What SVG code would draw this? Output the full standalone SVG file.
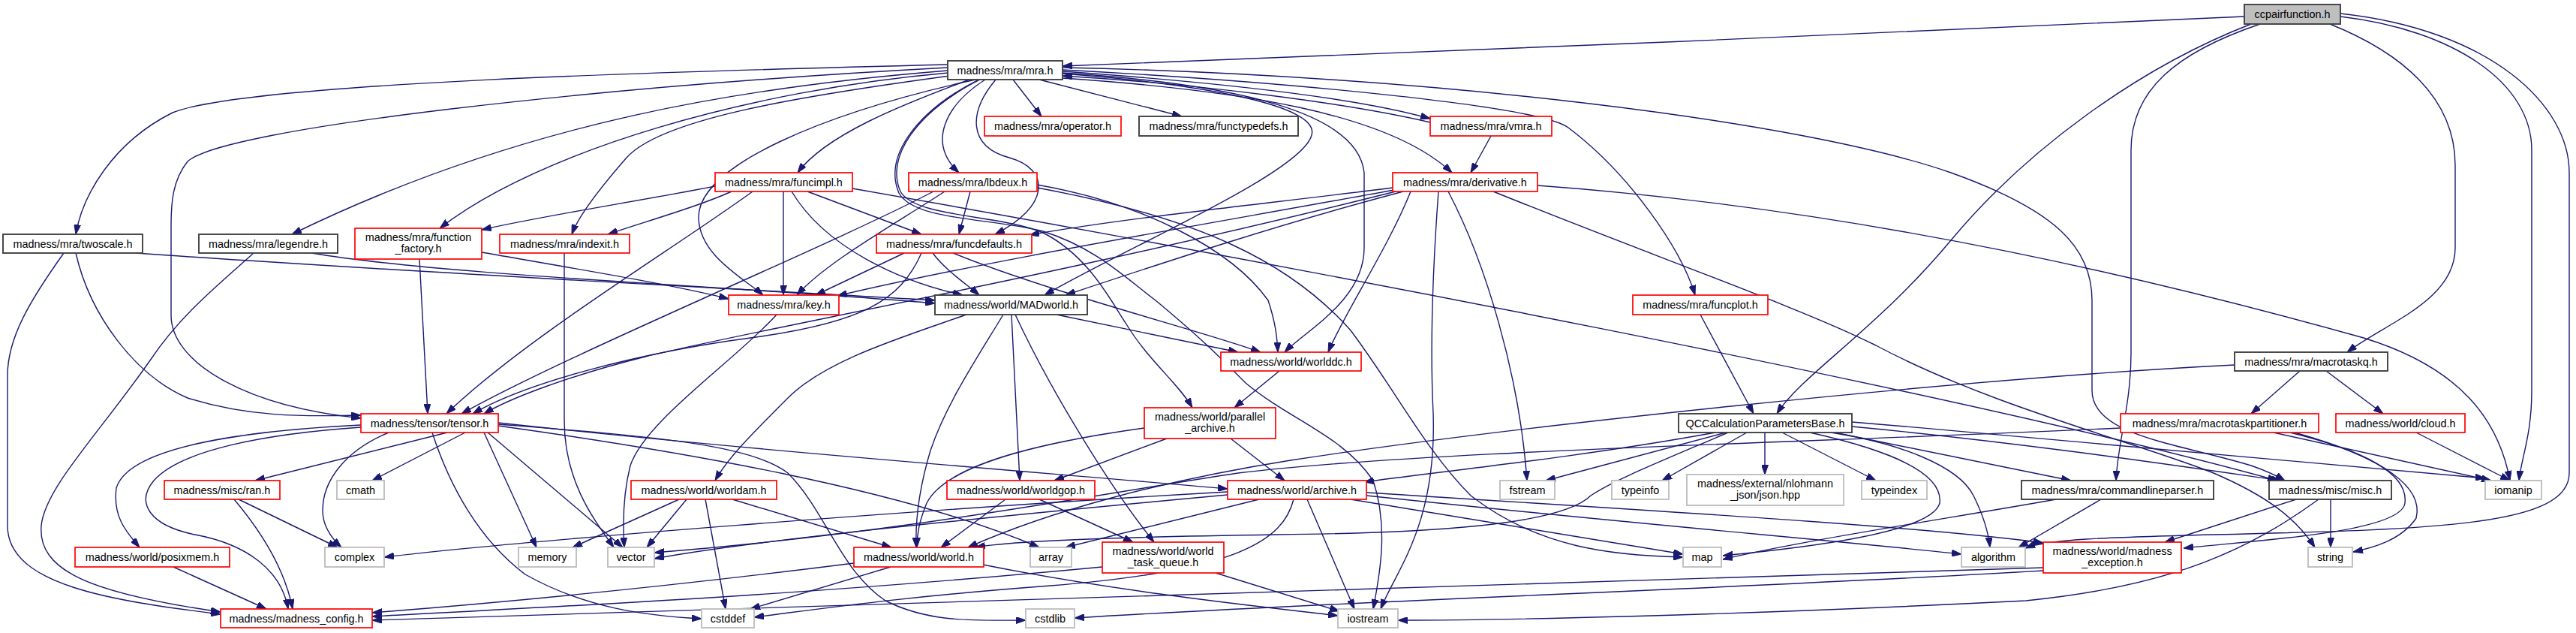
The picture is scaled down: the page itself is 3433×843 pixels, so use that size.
<svg xmlns="http://www.w3.org/2000/svg" width="3433" height="843" viewBox="0 0 3433 843">
<style>
text{font-family:"Liberation Sans",Arial,sans-serif;font-size:14.4px;text-anchor:middle;fill:#000}
.r rect{fill:#fff;stroke:#ff0000;stroke-width:1.7}
.b rect{fill:#fff;stroke:#404040;stroke-width:1.9}
.g rect{fill:#fff;stroke:#bfbfbf;stroke-width:1.9}
.root rect{fill:#bfbfbf;stroke:#404040;stroke-width:1.9}
#edges path{fill:none;stroke:#191970;stroke-width:1.4;marker-end:url(#a)}
</style>
<defs>
<marker id="a" markerWidth="13" markerHeight="9" refX="13" refY="4.5" orient="auto" markerUnits="userSpaceOnUse"><path d="M0,0 L13,4.5 L0,9 z" fill="#191970" stroke="#191970" stroke-width="1"/></marker>
</defs>
<rect width="3433" height="843" fill="#fff"/>
<g id="edges">
<path d="M2991,22 C2500,45 1900,70 1416,88"/>
<path d="M3000,32 C2850,90 2700,200 2600,320 C2500,440 2400,500 2368,551"/>
<path d="M3012,32 C2900,70 2840,120 2840,200 L2840,470 C2840,540 2822,590 2820,640"/>
<path d="M3105,32 C3200,70 3272,130 3272,220 L3272,330 C3272,400 3180,430 3128,469"/>
<path d="M3119,22 C3270,40 3374,110 3374,200 L3374,520 C3374,580 3360,610 3357,640"/>
<path d="M3119,18 C3320,40 3424,140 3424,230 L3424,630 C3424,700 3250,705 2950,712 C2800,716 2730,718 2699,730"/>
<path d="M1263,86 C900,95 330,110 230,150 C150,190 110,260 101,312"/>
<path d="M1263,90 C800,115 300,170 250,215 C230,240 228,270 228,300 L228,420 C228,480 320,540 481,557"/>
<path d="M1263,94 C1000,115 700,160 389,312"/>
<path d="M1264,97 C1000,120 720,200 586,304"/>
<path d="M1266,101 C1050,130 880,160 835,210 C800,250 770,290 762,312"/>
<path d="M1300,106 C1100,150 930,220 931,290 C932,340 990,370 1017,393"/>
<path d="M1292,106 C1200,140 1100,180 1063,230"/>
<path d="M1313,106 C1260,140 1235,190 1278,230"/>
<path d="M1327,106 C1290,150 1290,195 1345,210 C1400,225 1400,275 1326,312"/>
<path d="M1350,106 L1388,155"/>
<path d="M1385,106 L1575,155"/>
<path d="M1416,95 C1600,108 1800,128 1906,158"/>
<path d="M1906,163 C1800,138 1600,112 1416,101"/>
<path d="M1416,104 C1650,120 1850,150 1935,230"/>
<path d="M1416,98 C1600,112 1760,140 1748,180 C1735,230 1500,330 1392,393"/>
<path d="M1416,97 C1650,112 1810,150 1818,230 L1818,330 C1818,400 1740,440 1712,469"/>
<path d="M1306,106 C1220,150 1180,210 1200,255 C1220,290 1330,285 1390,310 C1450,340 1480,400 1500,430 C1530,480 1570,510 1589,543"/>
<path d="M1304,106 C1218,150 1178,210 1198,257 C1218,294 1320,290 1390,308 C1460,330 1500,370 1540,400 C1600,450 1620,470 1660,510 C1720,560 1790,580 1830,640 C1850,700 1840,760 1830,811"/>
<path d="M1416,93 C1700,108 2050,140 2090,170 C2170,230 2240,330 2259,393"/>
<path d="M1416,90 C1900,100 2400,160 2600,230 C2740,280 2788,330 2788,400 L2788,520 C2788,580 2900,590 3000,620 C3020,627 3035,634 3045,640"/>
<path d="M953,248 C850,268 720,288 642,306"/>
<path d="M975,255 C930,275 870,292 810,312"/>
<path d="M1003,255 C900,330 700,450 595,551"/>
<path d="M1044,255 L1044,393"/>
<path d="M1055,255 C1100,330 1200,375 1283,393"/>
<path d="M1076,255 L1228,312"/>
<path d="M1136,251 C1700,350 2600,520 3035,640"/>
<path d="M1244,255 C1100,330 760,470 615,551"/>
<path d="M1259,255 C1190,300 1100,350 1062,393"/>
<path d="M1293,255 L1278,312"/>
<path d="M1382,246 C1520,270 1640,330 1690,400 C1700,430 1702,450 1703,469"/>
<path d="M1382,250 C1600,290 1720,350 1800,440 C1860,520 1900,600 1960,660 C2050,730 2150,740 2243,742"/>
<path d="M1856,250 C1700,270 1500,290 1372,313"/>
<path d="M1858,253 C1600,300 1300,350 1116,394"/>
<path d="M1870,255 C1700,300 1550,350 1420,393"/>
<path d="M1860,255 C1400,370 1000,440 860,475 C760,500 680,530 645,551"/>
<path d="M1880,255 C1850,330 1790,420 1770,469"/>
<path d="M1917,255 C1910,350 1905,450 1910,550 C1915,700 1860,760 1840,811"/>
<path d="M1930,255 C1980,350 2025,500 2035,640"/>
<path d="M2049,247 C2500,280 2900,380 3150,450 C3280,490 3330,560 3345,640"/>
<path d="M1990,255 C2200,340 2400,410 2500,460 C2650,540 2850,590 2950,630 C3020,660 3060,690 3085,729"/>
<path d="M1987,181 L1960,230"/>
<path d="M1205,337 L1087,393"/>
<path d="M1243,337 C1260,360 1290,380 1305,393"/>
<path d="M1270,337 C1400,390 1600,440 1680,469"/>
<path d="M1228,337 C1200,400 1150,430 1000,450 C850,470 700,510 630,551"/>
<path d="M559,345 L570,551"/>
<path d="M642,336 C780,360 900,380 971,398"/>
<path d="M85,337 C40,400 10,450 10,500 L10,700 C10,780 150,800 294,818"/>
<path d="M101,337 C120,420 180,500 250,530 C330,555 400,555 481,553"/>
<path d="M181,337 C500,360 900,380 1246,400"/>
<path d="M338,337 C290,380 240,420 200,480 C130,580 60,650 55,700 C50,760 120,790 294,815"/>
<path d="M415,337 C600,368 1000,382 1246,404"/>
<path d="M752,337 L752,560 C752,640 790,690 818,729"/>
<path d="M1035,419 C980,480 860,560 840,620 C830,660 830,700 832,729"/>
<path d="M1288,419 C1200,450 1100,480 1050,530 C1000,580 970,610 953,640"/>
<path d="M1337,419 C1300,480 1260,540 1240,600 C1222,660 1220,700 1221,729"/>
<path d="M1348,419 L1359,640"/>
<path d="M1353,419 C1400,520 1480,650 1538,722"/>
<path d="M1408,419 L1650,469"/>
<path d="M1705,494 L1645,543"/>
<path d="M596,576 L340,640"/>
<path d="M620,576 L496,640"/>
<path d="M518,576 C460,600 430,640 430,680 C430,700 440,715 455,729"/>
<path d="M645,576 L715,729"/>
<path d="M650,576 L830,729"/>
<path d="M576,576 C600,650 640,720 700,765 C780,810 860,820 935,824"/>
<path d="M481,569 C350,578 240,600 205,640 C180,670 200,700 260,712 C330,725 375,760 384,811"/>
<path d="M481,566 C300,575 170,600 155,650 C150,690 170,710 186,729"/>
<path d="M664,567 C900,600 1200,650 1385,729"/>
<path d="M664,563 C1000,600 1400,630 1636,651"/>
<path d="M664,565 C850,580 1000,590 1050,630 C1100,680 1120,760 1180,800 C1240,830 1300,826 1367,826"/>
<path d="M318,665 L450,729"/>
<path d="M312,665 C350,710 380,760 390,811"/>
<path d="M231,755 L355,811"/>
<path d="M905,665 L763,729"/>
<path d="M915,665 L862,729"/>
<path d="M940,665 L967,811"/>
<path d="M976,665 L1188,729"/>
<path d="M1340,665 L1254,729"/>
<path d="M1385,665 L1510,722"/>
<path d="M1525,570 C1380,590 1260,620 1235,670 C1225,695 1222,710 1222,729"/>
<path d="M1555,584 L1405,640"/>
<path d="M1640,584 L1712,640"/>
<path d="M1636,655 C1200,680 700,720 512,742"/>
<path d="M1636,659 C1300,690 1000,720 872,744"/>
<path d="M1678,665 L1420,729"/>
<path d="M1724,665 C1710,720 1650,760 1400,780 C1200,795 1100,810 1005,822"/>
<path d="M1742,665 L1805,811"/>
<path d="M1800,665 L2243,738"/>
<path d="M1821,660 C2200,700 2450,720 2614,738"/>
<path d="M1821,656 C2200,680 2550,700 2723,723"/>
<path d="M1469,755 C1100,790 800,805 496,821"/>
<path d="M1620,763 L1785,814"/>
<path d="M1138,750 C900,780 700,800 496,816"/>
<path d="M1187,755 L1000,811"/>
<path d="M1310,752 C1500,790 1700,810 1783,820"/>
<path d="M2286,576 C2100,610 1900,630 1818,642"/>
<path d="M2300,576 L2060,640"/>
<path d="M2303,576 C2200,620 2150,640 2120,660 C2080,700 1900,710 1700,712 C1500,715 1350,720 1300,729"/>
<path d="M2328,576 L2215,640"/>
<path d="M2352,576 L2352,632"/>
<path d="M2375,576 L2500,640"/>
<path d="M2412,576 C2520,600 2590,630 2585,670 C2575,710 2400,730 2296,740"/>
<path d="M2440,576 C2530,590 2610,620 2630,660 C2645,690 2650,710 2652,729"/>
<path d="M2445,576 L2760,640"/>
<path d="M2468,568 C2700,590 2900,620 3040,640"/>
<path d="M2468,562 C2800,590 3150,620 3312,637"/>
<path d="M2740,665 C2600,690 2400,720 2296,745"/>
<path d="M2800,665 L2690,729"/>
<path d="M3060,665 L2885,722"/>
<path d="M3106,665 L3106,729"/>
<path d="M3090,665 C3000,730 2900,780 2700,800 C2300,820 2000,826 1863,826"/>
<path d="M3065,494 L3000,551"/>
<path d="M3100,494 L3176,551"/>
<path d="M2978,486 C2600,505 2000,570 1720,613 C1550,640 1400,680 1290,729"/>
<path d="M2826,570 C2400,590 1900,600 1650,630 C1450,660 1200,710 872,736"/>
<path d="M3030,576 L3320,640"/>
<path d="M3052,576 C3150,600 3210,630 3205,670 C3200,710 3000,720 2910,730"/>
<path d="M3058,576 C3180,610 3230,650 3220,690 C3200,720 3160,730 3136,735"/>
<path d="M3220,576 L3345,640"/>
<path d="M2266,419 L2337,551"/>
<path d="M2723,756 C2300,775 1500,800 496,826"/>
<path d="M2723,760 C2300,785 1800,800 1432,823"/>
</g>
<g id="node-ccpairfunction" class="root"><rect x="2991" y="6" width="128" height="26"/><text x="3055" y="24">ccpairfunction.h</text></g>
<g id="node-mra" class="b"><rect x="1263" y="81" width="153" height="25"/><text x="1339.5" y="99">madness/mra/mra.h</text></g>
<g id="node-operator" class="r"><rect x="1312" y="155" width="182" height="26"/><text x="1403" y="173">madness/mra/operator.h</text></g>
<g id="node-functypedefs" class="b"><rect x="1518" y="155" width="212" height="26"/><text x="1624" y="173">madness/mra/functypedefs.h</text></g>
<g id="node-vmra" class="r"><rect x="1906" y="155" width="162" height="26"/><text x="1987" y="173">madness/mra/vmra.h</text></g>
<g id="node-funcimpl" class="r"><rect x="953" y="230" width="183" height="25"/><text x="1044.5" y="248">madness/mra/funcimpl.h</text></g>
<g id="node-lbdeux" class="r"><rect x="1211" y="230" width="171" height="25"/><text x="1296.5" y="248">madness/mra/lbdeux.h</text></g>
<g id="node-derivative" class="r"><rect x="1856" y="230" width="193" height="25"/><text x="1952.5" y="248">madness/mra/derivative.h</text></g>
<g id="node-twoscale" class="b"><rect x="4" y="312" width="186" height="25"/><text x="97" y="330">madness/mra/twoscale.h</text></g>
<g id="node-legendre" class="b"><rect x="265" y="312" width="185" height="25"/><text x="357.5" y="330">madness/mra/legendre.h</text></g>
<g id="node-function_factory" class="r"><rect x="473" y="304" width="169" height="41"/><text x="557.5" y="321">madness/mra/function</text><text x="557.5" y="336">_factory.h</text></g>
<g id="node-indexit" class="r"><rect x="666" y="312" width="173" height="25"/><text x="752.5" y="330">madness/mra/indexit.h</text></g>
<g id="node-funcdefaults" class="r"><rect x="1168" y="312" width="207" height="25"/><text x="1271.5" y="330">madness/mra/funcdefaults.h</text></g>
<g id="node-key" class="r"><rect x="971" y="393" width="147" height="26"/><text x="1044.5" y="411">madness/mra/key.h</text></g>
<g id="node-MADworld" class="b"><rect x="1246" y="393" width="203" height="26"/><text x="1347.5" y="411">madness/world/MADworld.h</text></g>
<g id="node-funcplot" class="r"><rect x="2176" y="393" width="180" height="26"/><text x="2266" y="411">madness/mra/funcplot.h</text></g>
<g id="node-worlddc" class="r"><rect x="1627" y="469" width="187" height="25"/><text x="1720.5" y="487">madness/world/worlddc.h</text></g>
<g id="node-macrotaskq" class="b"><rect x="2978" y="469" width="204" height="25"/><text x="3080" y="487">madness/mra/macrotaskq.h</text></g>
<g id="node-tensor" class="r"><rect x="481" y="551" width="183" height="25"/><text x="572.5" y="569">madness/tensor/tensor.h</text></g>
<g id="node-parallel_archive" class="r"><rect x="1525" y="543" width="175" height="41"/><text x="1612.5" y="560">madness/world/parallel</text><text x="1612.5" y="575">_archive.h</text></g>
<g id="node-QCCalculationParametersBase" class="b"><rect x="2237" y="551" width="231" height="25"/><text x="2352.5" y="569">QCCalculationParametersBase.h</text></g>
<g id="node-macrotaskpartitioner" class="r"><rect x="2826" y="551" width="264" height="25"/><text x="2958" y="569">madness/mra/macrotaskpartitioner.h</text></g>
<g id="node-cloud" class="r"><rect x="3113" y="551" width="172" height="25"/><text x="3199" y="569">madness/world/cloud.h</text></g>
<g id="node-ran" class="r"><rect x="219" y="640" width="154" height="25"/><text x="296" y="658">madness/misc/ran.h</text></g>
<g id="node-cmath" class="g"><rect x="449" y="640" width="63" height="25"/><text x="480.5" y="658">cmath</text></g>
<g id="node-worldam" class="r"><rect x="841" y="640" width="194" height="25"/><text x="938" y="658">madness/world/worldam.h</text></g>
<g id="node-worldgop" class="r"><rect x="1262" y="640" width="197" height="25"/><text x="1360.5" y="658">madness/world/worldgop.h</text></g>
<g id="node-archive" class="r"><rect x="1636" y="640" width="185" height="25"/><text x="1728.5" y="658">madness/world/archive.h</text></g>
<g id="node-fstream" class="g"><rect x="1999" y="640" width="73" height="25"/><text x="2035.5" y="658">fstream</text></g>
<g id="node-typeinfo" class="g"><rect x="2148" y="640" width="76" height="25"/><text x="2186" y="658">typeinfo</text></g>
<g id="node-json" class="g"><rect x="2248" y="632" width="209" height="41"/><text x="2352.5" y="649">madness/external/nlohmann</text><text x="2352.5" y="664">_json/json.hpp</text></g>
<g id="node-typeindex" class="g"><rect x="2481" y="640" width="87" height="25"/><text x="2524.5" y="658">typeindex</text></g>
<g id="node-commandlineparser" class="b"><rect x="2694" y="640" width="256" height="25"/><text x="2822" y="658">madness/mra/commandlineparser.h</text></g>
<g id="node-misc" class="b"><rect x="3024" y="640" width="163" height="25"/><text x="3105.5" y="658">madness/misc/misc.h</text></g>
<g id="node-iomanip" class="g"><rect x="3312" y="640" width="75" height="25"/><text x="3349.5" y="658">iomanip</text></g>
<g id="node-posixmem" class="r"><rect x="100" y="729" width="206" height="26"/><text x="203" y="747">madness/world/posixmem.h</text></g>
<g id="node-complex" class="g"><rect x="433" y="729" width="79" height="26"/><text x="472.5" y="747">complex</text></g>
<g id="node-memory" class="g"><rect x="691" y="729" width="77" height="26"/><text x="729.5" y="747">memory</text></g>
<g id="node-vector" class="g"><rect x="810" y="729" width="62" height="26"/><text x="841" y="747">vector</text></g>
<g id="node-world" class="r"><rect x="1138" y="729" width="173" height="26"/><text x="1224.5" y="747">madness/world/world.h</text></g>
<g id="node-array" class="g"><rect x="1373" y="729" width="55" height="26"/><text x="1400.5" y="747">array</text></g>
<g id="node-world_task_queue" class="r"><rect x="1469" y="722" width="162" height="41"/><text x="1550" y="739">madness/world/world</text><text x="1550" y="754">_task_queue.h</text></g>
<g id="node-map" class="g"><rect x="2243" y="729" width="51" height="26"/><text x="2268.5" y="747">map</text></g>
<g id="node-algorithm" class="g"><rect x="2614" y="729" width="85" height="26"/><text x="2656.5" y="747">algorithm</text></g>
<g id="node-madness_exception" class="r"><rect x="2723" y="722" width="184" height="41"/><text x="2815" y="739">madness/world/madness</text><text x="2815" y="754">_exception.h</text></g>
<g id="node-string" class="g"><rect x="3076" y="729" width="59" height="26"/><text x="3105.5" y="747">string</text></g>
<g id="node-madness_config" class="r"><rect x="294" y="811" width="202" height="25"/><text x="395" y="829">madness/madness_config.h</text></g>
<g id="node-cstddef" class="g"><rect x="935" y="811" width="70" height="25"/><text x="970" y="829">cstddef</text></g>
<g id="node-cstdlib" class="g"><rect x="1367" y="811" width="65" height="25"/><text x="1399.5" y="829">cstdlib</text></g>
<g id="node-iostream" class="g"><rect x="1783" y="811" width="80" height="25"/><text x="1823" y="829">iostream</text></g>
</svg>
